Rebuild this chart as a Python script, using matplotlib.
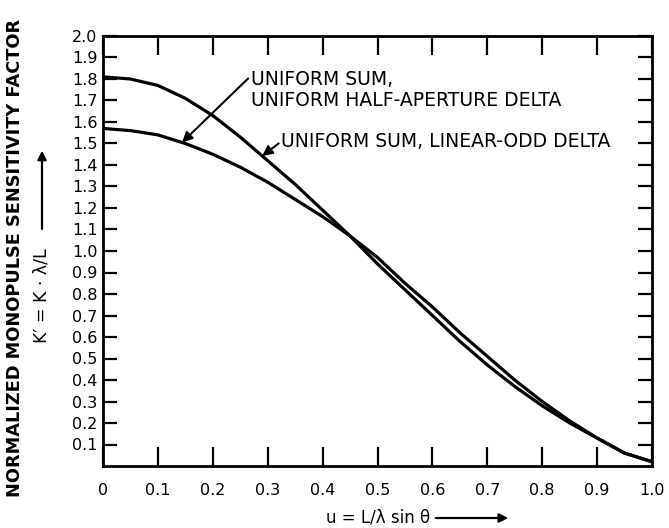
import matplotlib
matplotlib.use("Agg")
import matplotlib.pyplot as plt
import matplotlib.patches as mpatches
import matplotlib.transforms as mtransforms
import numpy as np

# Normalized angle u = (L/lambda) sin(theta)
u = [0.0, 0.05, 0.1, 0.15, 0.2, 0.25, 0.3, 0.35, 0.4, 0.45, 0.5,
     0.55, 0.6, 0.65, 0.7, 0.75, 0.8, 0.85, 0.9, 0.95, 1.0]

# Uniform sum, linear-odd delta
k_linear_odd = [1.81, 1.80, 1.77, 1.71, 1.63, 1.53, 1.42, 1.31, 1.19, 1.07, 0.94,
                0.82, 0.70, 0.58, 0.47, 0.37, 0.28, 0.20, 0.13, 0.06, 0.02]

# Uniform sum, uniform half-aperture delta
k_half_aperture = [1.57, 1.56, 1.54, 1.50, 1.45, 1.39, 1.32, 1.24, 1.16, 1.07, 0.97,
                   0.85, 0.74, 0.62, 0.51, 0.40, 0.30, 0.21, 0.13, 0.06, 0.02]

x_ticks = [0, 0.1, 0.2, 0.3, 0.4, 0.5, 0.6, 0.7, 0.8, 0.9, 1.0]
x_tick_labels = ["0", "0.1", "0.2", "0.3", "0.4", "0.5", "0.6", "0.7", "0.8", "0.9", "1.0"]
y_ticks = [round(0.1 * i, 1) for i in range(1, 21)]
y_tick_labels = [f"{v:.1f}" for v in y_ticks]

plt.rcParams["font.family"] = ["DejaVu Sans"]

fig = plt.figure(figsize=(6.69, 5.28), dpi=100)
ax = fig.add_axes([103 / 669, 1 - 466 / 528, (652 - 103) / 669, (466 - 36) / 528])

ax.plot(u, k_linear_odd, color="black", lw=2.3, solid_capstyle="round")
ax.plot(u, k_half_aperture, color="black", lw=2.3, solid_capstyle="round")

ax.set_xlim(0, 1.0)
ax.set_ylim(0, 2.0)
ax.set_xticks(x_ticks)
ax.set_xticklabels(x_tick_labels)
ax.set_yticks(y_ticks)
ax.set_yticklabels(y_tick_labels)
ax.tick_params(axis="both", direction="in", width=1.6,
               top=True, right=True, labelsize=11.5)
ax.tick_params(axis="x", length=14, pad=12)
ax.tick_params(axis="y", length=10, pad=4)
for sp in ax.spines.values():
    sp.set_linewidth(2.0)

# Curve annotations
ax.annotate("UNIFORM SUM,\nUNIFORM HALF-APERTURE DELTA",
            xy=(0.144, np.interp(0.144, u, k_half_aperture)),
            xytext=(0.27, 1.75), ha="left", va="center", fontsize=13.5,
            linespacing=1.15,
            arrowprops=dict(arrowstyle="-|>", color="black", lw=1.5,
                            mutation_scale=15, shrinkA=0, shrinkB=0,
                            relpos=(-0.01, 0.78)))
ax.annotate("UNIFORM SUM, LINEAR-ODD DELTA",
            xy=(0.29, np.interp(0.29, u, k_linear_odd)),
            xytext=(0.325, 1.51), ha="left", va="center", fontsize=13.5,
            arrowprops=dict(arrowstyle="-|>", color="black", lw=1.5,
                            mutation_scale=15, shrinkA=0, shrinkB=0,
                            relpos=(0.0, 0.5)))

# Axis titles
fig.text(15 / 669, 1 - 258 / 528, "NORMALIZED MONOPULSE SENSITIVITY FACTOR",
         rotation=90, ha="center", va="center", fontsize=12.8, weight="bold")

# Secondary y title: figure x, data y
ky = mtransforms.blended_transform_factory(fig.transFigure, ax.transData)
fig.text(42 / 669, 0.57, "K\u2032 = K \u00b7 \u03bb/L", transform=ky,
         rotation=90, ha="center", va="bottom", fontsize=12.5)
fig.add_artist(mpatches.FancyArrowPatch(
    (42 / 669, 1.09), (42 / 669, 1.48),
    transform=ky, arrowstyle="-|>", mutation_scale=13,
    color="black", lw=1.6))

fig.text(430 / 669, 1 - 518 / 528, "u = L/\u03bb sin \u03b8",
         ha="right", va="center", fontsize=12)
fig.add_artist(mpatches.FancyArrowPatch(
    (433 / 669, 1 - 518 / 528), (511 / 669, 1 - 518 / 528),
    transform=fig.transFigure, arrowstyle="-|>", mutation_scale=13,
    color="black", lw=1.6))

fig.savefig("out.png", dpi=100)
